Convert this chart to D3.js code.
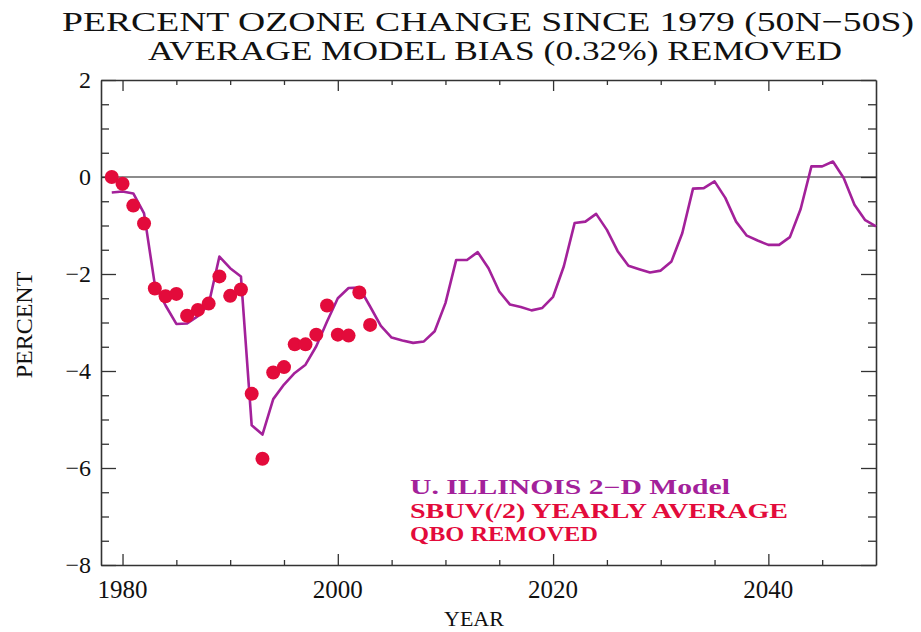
<!DOCTYPE html>
<html>
<head>
<meta charset="utf-8">
<script src="https://cdn.jsdelivr.net/npm/d3@7"></script>
<style>
  body { margin: 0; background: #fff; }
  svg text { font-family: "Liberation Serif", "DejaVu Serif", serif; }
</style>
</head>
<body>
<div id="chart"></div>
<script>
// model run, one value a year 1979-2050
const modelYears = d3.range(1979, 2051);
const modelValues = [
  -0.32, -0.30, -0.34, -0.75, -2.22, -2.65, -3.03, -3.02, -2.87, -2.63,
  -1.64, -1.88, -2.05, -5.12, -5.31, -4.58, -4.28, -4.04, -3.87, -3.49,
  -2.98, -2.50, -2.29, -2.28, -2.67, -3.07, -3.31, -3.37, -3.42, -3.39,
  -3.18, -2.60, -1.71, -1.71, -1.55, -1.88, -2.36, -2.63, -2.68, -2.75,
  -2.70, -2.47, -1.84, -0.95, -0.92, -0.76, -1.09, -1.53, -1.83, -1.90,
  -1.97, -1.93, -1.74, -1.16, -0.24, -0.23, -0.09, -0.43, -0.92, -1.21,
  -1.31, -1.40, -1.40, -1.24, -0.66, 0.22, 0.22, 0.32, -0.02, -0.57,
  -0.89, -1.02
];

// SBUV(/2) yearly averages 1979-2003
const sbuvYears = d3.range(1979, 2004);
const sbuvValues = [
  0.00, -0.14, -0.59, -0.96, -2.30, -2.46, -2.41, -2.86, -2.74, -2.61,
  -2.05, -2.45, -2.32, -4.47, -5.81, -4.03, -3.92, -3.45, -3.45, -3.25,
  -2.65, -3.25, -3.27, -2.38, -3.05
];

const xLabelTicks = [1980, 2000, 2020, 2040];
const yLabelTicks = [2, 0, -2, -4, -6, -8];
const titleLines = ["PERCENT OZONE CHANGE SINCE 1979 (50N\u221250S)", "AVERAGE MODEL BIAS (0.32%) REMOVED"];
const legendLines = ["U. ILLINOIS 2\u2212D Model", "SBUV(/2) YEARLY AVERAGE", "QBO REMOVED"];

const W = 921, H = 632;
const margin = { top: 80, right: 45, bottom: 67, left: 101 };
const width = W - margin.left - margin.right,
      height = H - margin.top - margin.bottom;

const purple = "#a3219a", red = "#e30b3b", axisCol = "#333";

const svg = d3.select("#chart").append("svg")
    .attr("width", W)
    .attr("height", H);

const x = d3.scaleLinear().domain([1978, 2050]).range([0, width]);
const y = d3.scaleLinear().domain([-8, 2]).range([height, 0]);

const g = svg.append("g")
    .attr("transform", "translate(" + margin.left + "," + margin.top + ")");

// title
const titleX = [488, 495];
svg.selectAll(".title")
    .data(titleLines)
    .enter().append("text")
    .attr("class", "title")
    .attr("x", (d, i) => titleX[i])
    .attr("y", (d, i) => 31 + i * 29)
    .attr("text-anchor", "middle")
    .attr("font-size", 28)
    .attr("textLength", (d, i) => i === 0 ? 852 : 694)
    .attr("lengthAdjust", "spacingAndGlyphs")
    .attr("fill", "#111")
    .text(d => d);

// zero line
g.append("line")
    .attr("x1", 0).attr("x2", width)
    .attr("y1", y(0)).attr("y2", y(0))
    .attr("stroke", "#666")
    .attr("stroke-width", 1.6);

// axes: ticks inside, minor every 0.5 % and 5 years
const yMinor = d3.range(-8, 2.01, 0.5);
const xMinor = d3.range(1980, 2050, 5);
const yTickLen = v => (v % 2 === 0 ? 15 : 8);
const xTickLen = v => (v % 20 === 0 ? 11 : 5);

const axisLeft = d3.axisLeft(y).tickValues(yMinor).tickFormat("").tickSizeOuter(0);
const axisRight = d3.axisRight(y).tickValues(yMinor).tickFormat("").tickSizeOuter(0);
const axisBottom = d3.axisBottom(x).tickValues(xMinor).tickFormat("").tickSizeOuter(0);
const axisTop = d3.axisTop(x).tickValues(xMinor).tickFormat("").tickSizeOuter(0);

function styleAxis(sel, lenFn, sign, dim) {
  sel.select(".domain").attr("stroke", axisCol).attr("stroke-width", 1.6);
  sel.selectAll(".tick line")
      .attr("stroke", axisCol)
      .attr("stroke-width", 1.3)
      .attr(dim, d => sign * lenFn(d));
}

g.append("g").call(axisLeft).call(s => styleAxis(s, yTickLen, 1, "x2"));
g.append("g").attr("transform", "translate(" + width + ",0)")
    .call(axisRight).call(s => styleAxis(s, yTickLen, -1, "x2"));
g.append("g").attr("transform", "translate(0," + height + ")")
    .call(axisBottom).call(s => styleAxis(s, xTickLen, -1, "y2"));
g.append("g").call(axisTop).call(s => styleAxis(s, xTickLen, 1, "y2"));

// tick labels
g.selectAll(".ylab")
    .data(yLabelTicks)
    .enter().append("text")
    .attr("class", "ylab")
    .attr("x", -10)
    .attr("y", d => y(d))
    .attr("dy", "0.35em")
    .attr("text-anchor", "end")
    .attr("font-size", 24)
    .attr("fill", "#111")
    .text(d => d < 0 ? "\u2212" + Math.abs(d) : d);

g.selectAll(".xlab")
    .data(xLabelTicks)
    .enter().append("text")
    .attr("class", "xlab")
    .attr("x", d => x(d))
    .attr("y", height + 33)
    .attr("text-anchor", "middle")
    .attr("font-size", 25)
    .attr("fill", "#111")
    .text(d => d);

// axis titles
svg.append("text")
    .attr("x", 474).attr("y", 626)
    .attr("text-anchor", "middle")
    .attr("font-size", 22)
    .attr("fill", "#111")
    .text("YEAR");

svg.append("text")
    .attr("transform", "translate(32,325) rotate(-90)")
    .attr("text-anchor", "middle")
    .attr("font-size", 24)
    .attr("fill", "#111")
    .text("PERCENT");

// model line
const line = d3.line()
    .x((d, i) => x(modelYears[i]))
    .y(d => y(d));

g.append("path")
    .datum(modelValues)
    .attr("d", line)
    .attr("fill", "none")
    .attr("stroke", purple)
    .attr("stroke-width", 2.6)
    .attr("stroke-linejoin", "round");

// SBUV dots
g.selectAll(".dot")
    .data(sbuvValues)
    .enter().append("circle")
    .attr("class", "dot")
    .attr("cx", (d, i) => x(sbuvYears[i]))
    .attr("cy", d => y(d))
    .attr("r", 7)
    .attr("fill", red);

// legend text
const legendColors = [purple, red, red];
const legendLen = [320, 378, 188];
svg.selectAll(".legend")
    .data(legendLines)
    .enter().append("text")
    .attr("class", "legend")
    .attr("x", 410)
    .attr("y", (d, i) => 494 + i * 23.5)
    .attr("font-family", "DejaVu Serif")
    .attr("font-weight", "bold")
    .attr("font-size", 20)
    .attr("textLength", (d, i) => legendLen[i])
    .attr("lengthAdjust", "spacingAndGlyphs")
    .attr("fill", (d, i) => legendColors[i])
    .text(d => d);
</script>
</body>
</html>
